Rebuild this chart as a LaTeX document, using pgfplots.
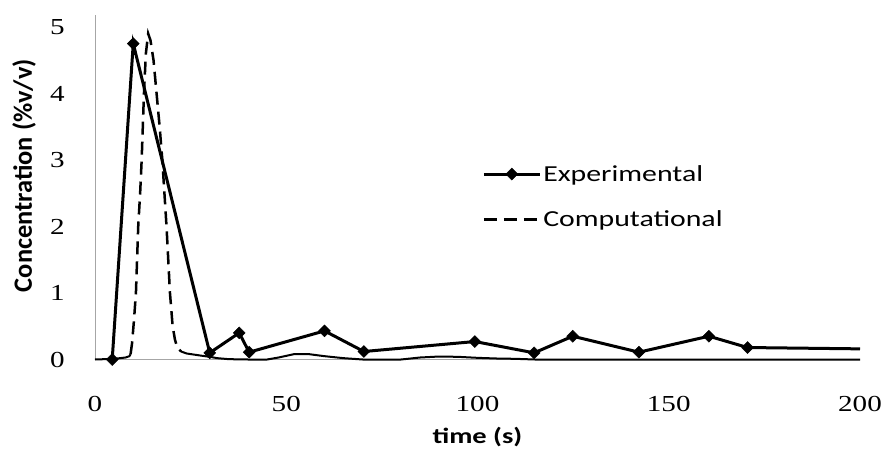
\documentclass[border=0pt]{standalone}
\usepackage{fontspec}
\setmainfont{Liberation Serif}[FakeStretch=1.27]
\setsansfont{Carlito}[FakeStretch=1.3]
\newfontfamily\ylabfont{Carlito}
\usepackage{pgfplots}
\pgfplotsset{compat=1.18}

\pgfplotstableread{
x y
4.5 0
10 4.75
30 0.1
37.7 0.4
40.3 0.11
60 0.43
70.3 0.12
99.3 0.27
114.8 0.1
124.9 0.35
142.2 0.11
160.5 0.35
170.6 0.18
}\expdata

\pgfplotstableread{
x y
9.3 0.08
9.7 0.25
10.2 0.6
10.7 1.0
11.3 2.0
11.8 2.5
12.2 3.0
12.8 4.0
13.3 4.6
13.9 4.9
14.5 4.8
15.3 4.5
16.1 4.0
16.9 3.5
17.6 3.0
18.7 2.0
19.6 1.0
20.3 0.5
20.9 0.3
21.5 0.18
22.5 0.12
}\compdash

\pgfplotstableread{
x y
0 0
5 0.01
8 0.03
9 0.05
9.3 0.08
}\compbase

\pgfplotstableread{
x y
22.5 0.12
24 0.09
27.5 0.06
30 0.04
32 0.02
35 0.005
40 0
45 0
48 0.03
52 0.08
56 0.08
60 0.05
65 0.02
70 0
80 0
85 0.03
90 0.045
95 0.04
100 0.025
105 0.015
110 0.01
115 0
200 0
}\comptail

\begin{document}
\begin{tikzpicture}
\begin{axis}[
  at={(0,0)}, anchor=south west,
  scale only axis, width=765bp, height=344.5bp,
  xmin=0, xmax=200, ymin=0, ymax=5.18,
  axis x line*=bottom, axis y line*=left,
  axis line style={draw=gray!70, line width=0.8bp, -},
  xtick={0,50,100,150,200}, ytick={0,1,2,3,4,5},
  major tick length=0pt,
  clip=false,
  /pgf/number format/assume math mode=true,
  ticklabel style={font=\fontsize{23}{23}\selectfont},
  xticklabel style={anchor=center, inner sep=0pt, yshift=-44bp},
  yticklabel style={anchor=east, inner sep=0pt, xshift=-30bp},
  xlabel={time (s)},
  every axis x label/.style={at={(axis description cs:0.5,-0.2264)}, anchor=center,
     font=\sffamily\bfseries\fontsize{22}{22}\selectfont},
  ylabel={Concentration (\%v/v)},
  every axis y label/.style={at={(axis description cs:-0.0928,0.534)}, rotate=90, anchor=center,
     font=\ylabfont\bfseries\fontsize{26.5}{26.5}\selectfont},
  legend style={draw=none, fill=none, at={(axis description cs:0.506,0.57)}, anchor=north west,
    font=\sffamily\fontsize{23}{23}\selectfont, row sep=24bp, inner sep=0pt},
  legend cell align=left,
  legend image code/.code={\draw[mark repeat=2,mark phase=2,#1] plot coordinates {(0bp,0bp)(28bp,0bp)(56bp,0bp)};},
]
\addplot[black, line width=3bp, mark=square*, mark size=4.2bp, mark options={rotate=45, solid, line width=0.5bp}] table[x=x,y=y] {\expdata};
\addlegendentry{Experimental}
\addplot[black, line width=2.5bp, dash pattern=on 13bp off 7bp] table[x=x,y=y] {\compdash};
\addlegendentry{Computational}
\addplot[black, line width=2bp, forget plot] table[x=x,y=y] {\compbase};
\addplot[black, line width=2bp, forget plot] table[x=x,y=y] {\comptail};
\addplot[black, line width=3bp, forget plot] coordinates {(170.6,0.18) (200,0.16)};
\end{axis}
\pgfresetboundingbox
\useasboundingbox (-95bp,-89.5bp) rectangle (790bp,359.5bp);
\end{tikzpicture}
\end{document}
